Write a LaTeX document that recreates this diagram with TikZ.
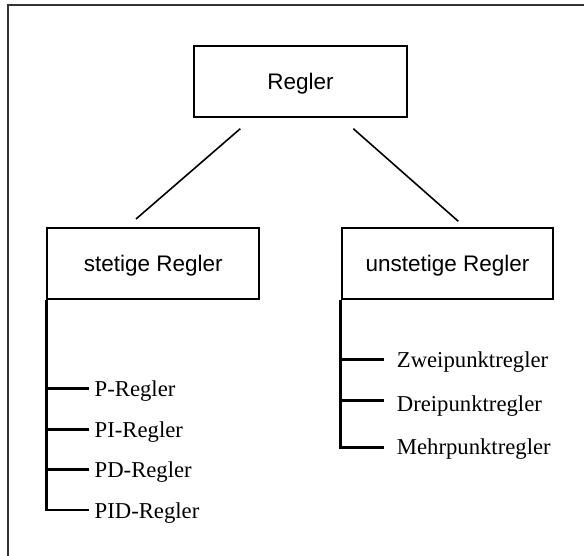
\documentclass[tikz,border=0pt]{standalone}
\usepackage{fontspec}
\setmainfont{Liberation Serif}
\newfontfamily\boxfont{Liberation Sans}
\begin{document}
\begin{tikzpicture}[x=1pt,y=-1pt,
  box/.style={draw, line width=2pt, inner sep=0pt, text depth=0pt,
    font=\boxfont\fontsize{22.5}{27}\selectfont},
  leaf/.style={anchor=base west, inner sep=0pt, font=\fontsize{22.7}{27}\selectfont},
  conn/.style={line width=1.6pt},
  tree/.style={line width=2.5pt, line join=miter}]
\useasboundingbox (0,0) rectangle (584,556);
\draw[line width=1.8pt, black!80] (8,556) -- (8,5) -- (584,5);

\node[box, minimum width=212.5pt, minimum height=71.5pt] (R) at (300.5,81.5) {Regler};
\node[box, minimum width=212pt, minimum height=71pt] (S) at (153.3,263.8) {stetige Regler};
\node[box, minimum width=211.6pt, minimum height=71pt] (U) at (447.5,263.8) {unstetige Regler};

\coordinate (rs1) at (240.3,128.7);
\coordinate (rs2) at (136,219);
\coordinate (ru1) at (353.3,128.7);
\coordinate (ru2) at (458.3,221.3);
\draw[conn] (rs1) -- (rs2);
\draw[conn] (ru1) -- (ru2);

% left tree
\coordinate (b1) at (89.3,388.3);
\coordinate (b2) at (89.3,429.3);
\coordinate (b3) at (89.3,469.3);
\coordinate (b4) at (89.3,510);
\draw[tree] (S.south west) |- (b1);
\draw[tree] (S.south west) |- (b2);
\draw[tree] (S.south west) |- (b3);
\draw[tree] (S.south west) |- (b4);
\node[leaf] (p) at (94.5,396.5) {P-Regler};
\node[leaf] (pi) at (94.5,437.5) {PI-Regler};
\node[leaf] (pd) at (94.5,477.5) {PD-Regler};
\node[leaf] (pid) at (94.5,518) {PID-Regler};

% right tree
\coordinate (c1) at (384.3,359.3);
\coordinate (c2) at (384.3,400.7);
\coordinate (c3) at (384.3,447.3);
\draw[tree] (U.south west) |- (c1);
\draw[tree] (U.south west) |- (c2);
\draw[tree] (U.south west) |- (c3);
\node[leaf] (z) at (396.7,367.3) {Zweipunktregler};
\node[leaf] (d) at (396.7,411.5) {Dreipunktregler};
\node[leaf] (m) at (396.7,454.5) {Mehrpunktregler};
\end{tikzpicture}
\end{document}
